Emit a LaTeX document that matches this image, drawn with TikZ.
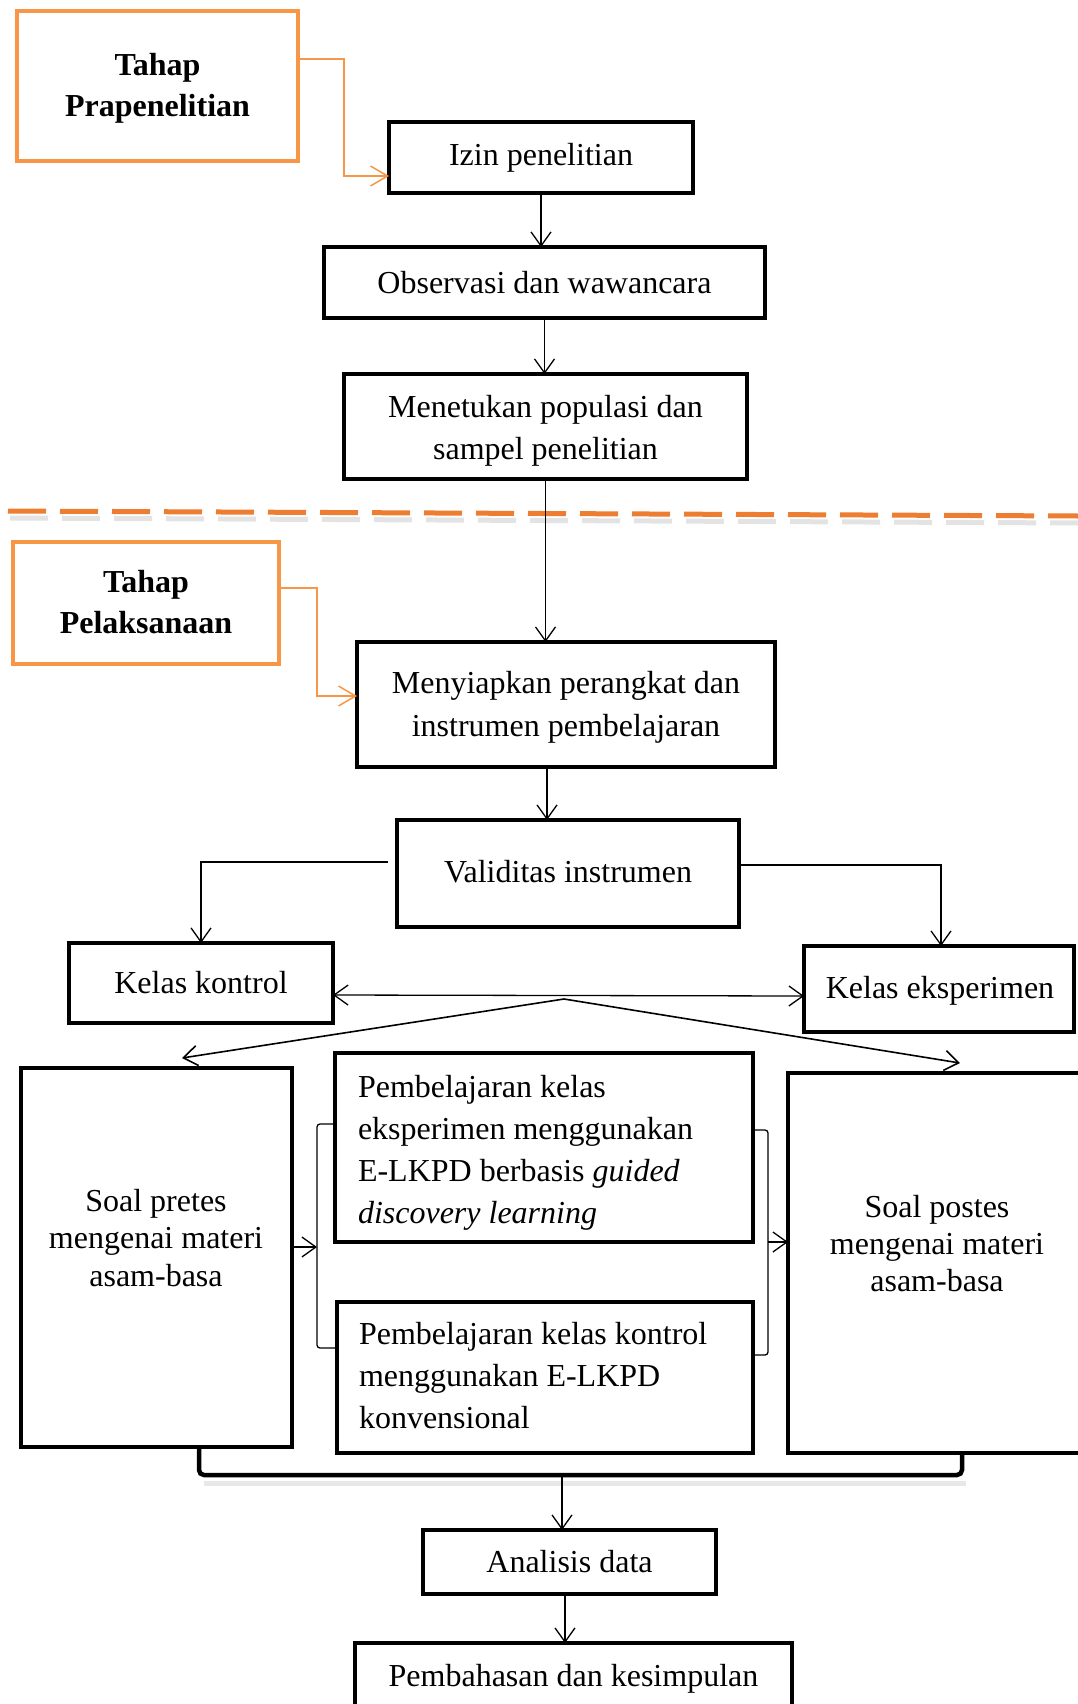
\documentclass[tikz,border=0pt]{standalone}
\usepackage{fontspec}
\setmainfont{Liberation Serif}
\usetikzlibrary{arrows.meta}
\definecolor{obox}{HTML}{F79646}
\definecolor{odash}{HTML}{ED7D31}
\tikzset{
 every node/.style={inner sep=0pt, outer sep=0pt, text=black},
 bx/.style={draw, line width=4pt, align=center, font=\fontsize{32}{41.5}\selectfont},
 obx/.style={draw=obox, line width=4.5pt},
 otxt/.style={align=center, font=\bfseries\fontsize{32}{41.5}\selectfont},
 ctxt/.style={align=center, font=\fontsize{32}{42.5}\selectfont},
 txt/.style={font=\fontsize{32}{42}\selectfont},
 conn/.style={line width=1.3pt},
 arr/.style={conn, -{Straight Barb[length=14pt,width=20pt]}},
 darr/.style={conn, {Straight Barb[length=14pt,width=20pt]}-{Straight Barb[length=14pt,width=20pt]}},
 oarr/.style={draw=obox, line width=1.5pt, -{Straight Barb[length=17pt,width=20pt]}},
}
\begin{document}
\begin{tikzpicture}[x=1pt,y=-1pt]
\useasboundingbox (0,0) rectangle (1078,1704);
\clip (0,0) rectangle (1078,1704);
% separator
\draw[gray!22, line width=5pt, dash pattern=on 38pt off 14pt] (10,518) -- (1080,523);
\draw[odash, line width=5pt, dash pattern=on 38pt off 14pt] (8,511) -- (1078,516);

% nodes
\node[obx, minimum width=281pt, minimum height=150pt] (tp1) at (157.5,86) {};
\node[otxt] (tp1text) at (157.5,88.5) {Tahap\\Prapenelitian};
\node[bx, minimum width=304pt, minimum height=71pt] (izin) at (541,157.5) {Izin penelitian};
\node[bx, minimum width=441pt, minimum height=71pt] (obs) at (544.5,282.5) {Observasi dan wawancara};
\node[bx, minimum width=403pt, minimum height=105pt] (pop) at (545.5,426.5) {};
\node[ctxt] (poptext) at (545.5,431) {Menetukan populasi dan\\sampel penelitian};
\node[obx, minimum width=266pt, minimum height=122pt] (tp2) at (146,603) {};
\node[otxt] (tp2text) at (146,602) {Tahap\\Pelaksanaan};
\node[bx, minimum width=418pt, minimum height=125pt] (siap) at (566,704.5) {};
\node[ctxt] (siaptext) at (566,707.5) {Menyiapkan perangkat dan\\instrumen pembelajaran};
\node[bx, minimum width=342pt, minimum height=107pt] (valid) at (568,873.5) {};
\node[ctxt] (validtext) at (568,871.5) {Validitas instrumen};
\node[bx, minimum width=264pt, minimum height=80pt] (kontrol) at (201,983) {Kelas kontrol};
\node[bx, minimum width=270pt, minimum height=86pt] (eksp) at (939,989) {};
\node[ctxt] (eksptext) at (940,991) {Kelas eksperimen};
\node[bx, minimum width=271pt, minimum height=379pt] (pretes) at (156.5,1257.5) {};
\node[align=center, font=\fontsize{32}{37.5}\selectfont] (pretestext) at (156,1238) {Soal pretes\\mengenai materi\\asam-basa};
\node[bx, minimum width=418pt, minimum height=189pt] (pe) at (544,1147.5) {};
\node[txt, anchor=west, align=left] (petext) at (358,1152.5) {Pembelajaran kelas\\eksperimen menggunakan\\E-LKPD berbasis \textit{guided}\\\textit{discovery learning}};
\node[bx, minimum width=416pt, minimum height=151pt] (pk) at (545,1377.5) {};
\node[txt, anchor=west, align=left] (pktext) at (359,1376) {Pembelajaran kelas kontrol\\menggunakan E-LKPD\\konvensional};
\node[bx, minimum width=302pt, minimum height=380pt] (postes) at (939,1263) {};
\node[align=center, font=\fontsize{32}{37}\selectfont] (postestext) at (937,1243.5) {Soal postes\\mengenai materi\\asam-basa};
\node[bx, minimum width=293pt, minimum height=64pt] (analisis) at (569.5,1562) {Analisis data};
\node[bx, minimum width=437pt, minimum height=71pt] (bahas) at (573.5,1678.5) {Pembahasan dan kesimpulan};

% orange connectors
\coordinate (o1) at (344,59);
\coordinate (o2) at (344,176);
\draw[oarr] ([yshift=27pt]tp1.east) -- (o1) -- (o2) -- ([yshift=-18.5pt]izin.west);
\coordinate (o3) at (317,588);
\coordinate (o4) at (317,696);
\draw[oarr] ([yshift=15pt]tp2.east) -- (o3) -- (o4) -- ([yshift=8.5pt]siap.west);

% vertical flow
\draw[arr] (izin.south) -- (izin.south |- obs.north);
\draw[arr] (obs.south) -- (obs.south |- pop.north);
\draw[arr] (pop.south) -- (pop.south |- siap.north);
\draw[arr] ([xshift=-19pt]siap.south) -- ([xshift=-19pt]siap.south |- valid.north);

% validitas to classes
\draw[arr] ([xshift=-9pt,yshift=11.5pt]valid.west) -| (kontrol.north);
\draw[arr] ([yshift=8.5pt]valid.east) -| ([xshift=2pt]eksp.north);
\draw[darr] ([yshift=-12pt]kontrol.east) -- ([yshift=-7pt]eksp.west);

\coordinate (apex) at (564,999);
\draw[arr, line width=1.6pt] (apex) -- ([xshift=25.5pt,yshift=10pt]pretes.north);
\draw[arr, line width=1.6pt] (apex) -- ([xshift=21pt,yshift=10pt]postes.north);

% brackets
\coordinate (l1) at (317,1124);
\coordinate (l2) at (317,1348);
\coordinate (lbr) at (317,1247);
\draw[conn, rounded corners=3pt] ([yshift=23.5pt]pe.west) -- (l1) -- (l2) -- ([yshift=29.5pt]pk.west);
\draw[arr] ([yshift=10.5pt]pretes.east) -- (lbr);
\coordinate (r1) at (768,1130);
\coordinate (r2) at (768,1355);
\coordinate (rbr) at (768,1242);
\draw[conn, rounded corners=3pt] ([yshift=17.5pt]pe.east) -- (r1) -- (r2) -- ([yshift=22.5pt]pk.east);
\draw[arr] (rbr) -- ([yshift=21pt]postes.west);

% bottom brace
\draw[gray!18, line width=5pt] (204,1483) -- (966,1483);
\coordinate (b1) at (199,1475);
\coordinate (b2) at (962,1475);
\draw[line width=4.5pt, rounded corners=5pt] ([xshift=42.5pt]pretes.south) -- (b1) -- (b2) -- ([xshift=23pt]postes.south);
\coordinate (bm) at (562,1475);
\draw[arr] (bm) -- (bm |- analisis.north);
\draw[arr] ([xshift=-4.5pt]analisis.south) -- ([xshift=-4.5pt]analisis.south |- bahas.north);
\end{tikzpicture}
\end{document}
